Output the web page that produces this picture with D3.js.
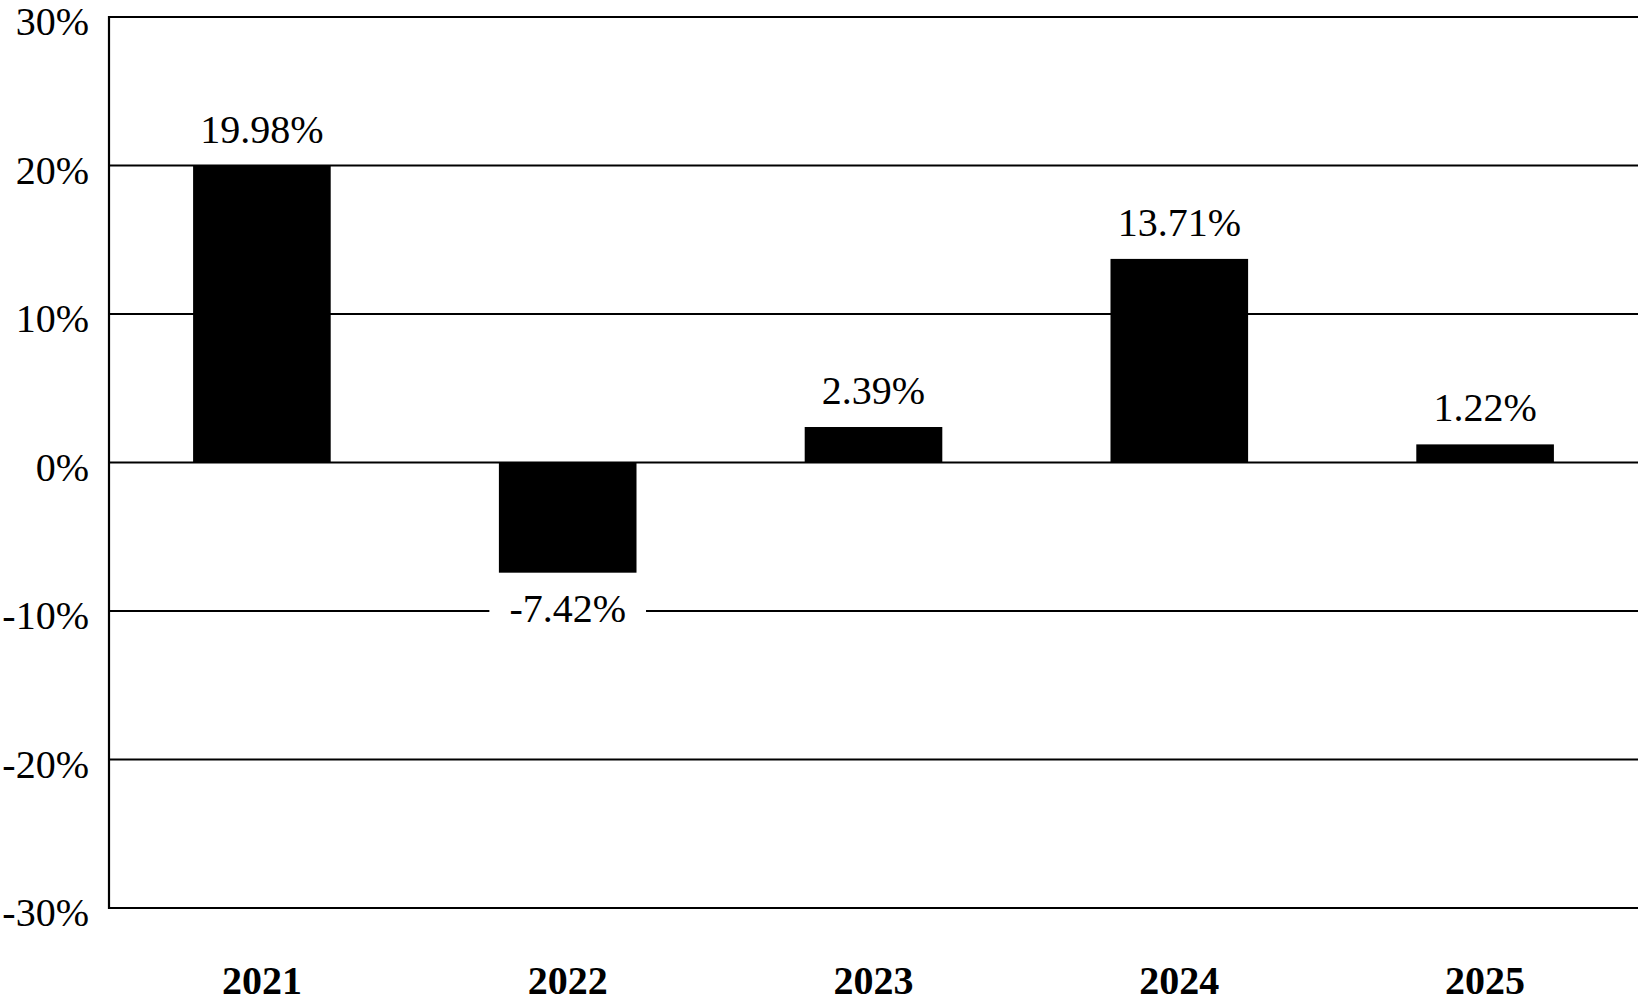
<!DOCTYPE html>
<html>
<head>
<meta charset="utf-8">
<script src="https://cdn.jsdelivr.net/npm/d3@7"></script>
<style>
  html, body { margin: 0; padding: 0; background: #fff; }
  svg { display: block; }
  text { font-family: "Liberation Serif", "Times New Roman", serif; fill: #000; }
</style>
</head>
<body>
<svg id="chart" width="1639" height="1005"></svg>
<script>
const years = ["2021", "2022", "2023", "2024", "2025"];
const returns = [19.98, -7.42, 2.39, 13.71, 1.22];
const valueLabels = ["19.98%", "-7.42%", "2.39%", "13.71%", "1.22%"];
const yTicks = [30, 20, 10, 0, -10, -20, -30];

(function () {
const svg = d3.select("#chart");
const mLeft = 109, mRight = 1638, mTop = 17, mBottom = 908;

const x = d3.scaleBand().domain(years).range([mLeft, mRight]).paddingInner(0.55).paddingOuter(0.275);
const y = d3.scaleLinear().domain([-30, 30]).range([mBottom, mTop]);

// gridlines
svg.append("g").selectAll("line").data(yTicks).join("line")
  .attr("x1", mLeft).attr("x2", mRight)
  .attr("y1", d => y(d)).attr("y2", d => y(d))
  .attr("stroke", "#000")
  .attr("stroke-width", d => (d === 30 || d === -30) ? 2.2 : 1.8);

// left axis line
svg.append("line").attr("x1", mLeft).attr("x2", mLeft).attr("y1", mTop - 1).attr("y2", mBottom + 1)
  .attr("stroke", "#000").attr("stroke-width", 2.2);

// y tick labels
svg.append("g").selectAll("text").data(yTicks).join("text")
  .attr("x", mLeft - 20).attr("y", d => y(d) + 18)
  .attr("text-anchor", "end").attr("font-size", 40)
  .text(d => d + "%");

// bars
const data = years.map((yr, i) => ({ yr, v: returns[i], label: valueLabels[i] }));
svg.append("g").selectAll("rect").data(data).join("rect")
  .attr("x", d => x(d.yr)).attr("width", x.bandwidth())
  .attr("y", d => y(Math.max(0, d.v)))
  .attr("height", d => Math.abs(y(d.v) - y(0)))
  .attr("fill", "#000");

// value labels
const lg = svg.append("g");
data.forEach(d => {
  const cx = x(d.yr) + x.bandwidth() / 2;
  if (d.v >= 0) {
    lg.append("text").attr("x", cx).attr("y", y(d.v) - 23)
      .attr("text-anchor", "middle").attr("font-size", 40).text(d.label);
  } else {
    const t = lg.append("text").attr("x", cx).attr("y", y(d.v) + 49)
      .attr("text-anchor", "middle").attr("font-size", 40).text(d.label);
    const bb = t.node().getBBox();
    lg.insert("rect", "text").attr("x", bb.x - 20).attr("y", bb.y)
      .attr("width", bb.width + 40).attr("height", bb.height).attr("fill", "#fff");
  }
});

// x labels
svg.append("g").selectAll("text").data(years).join("text")
  .attr("x", d => x(d) + x.bandwidth() / 2).attr("y", 994)
  .attr("text-anchor", "middle").attr("font-size", 40).attr("font-weight", "bold")
  .text(d => d);
})();
</script>
</body>
</html>
